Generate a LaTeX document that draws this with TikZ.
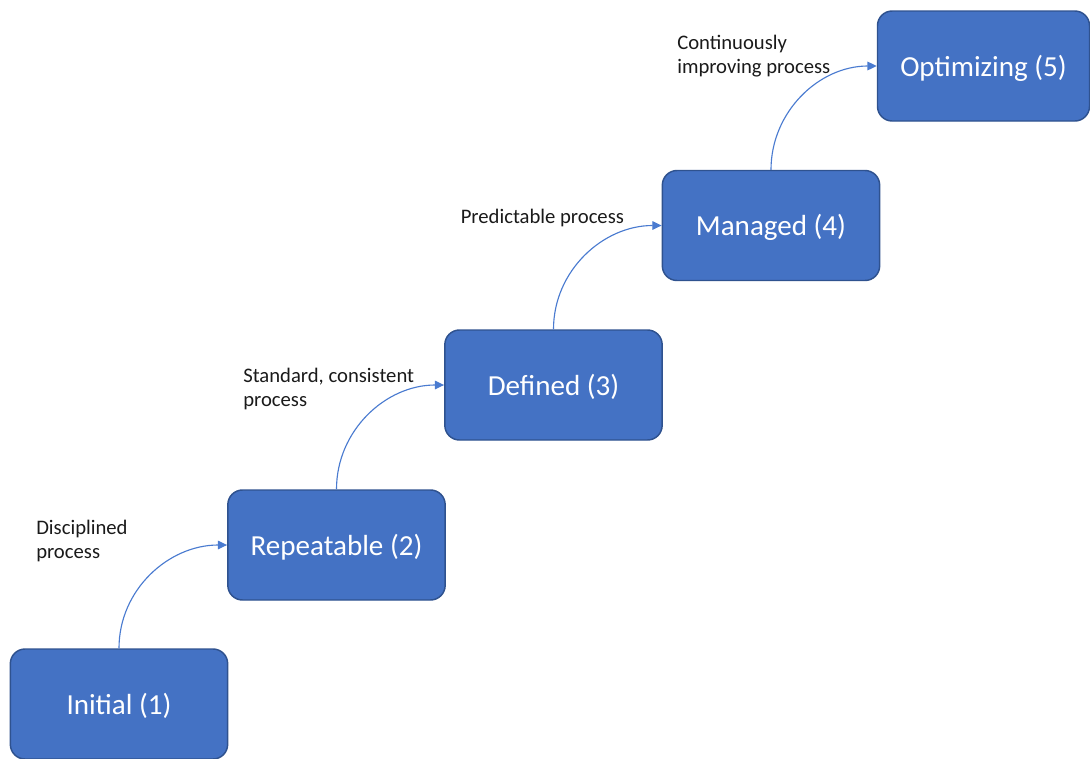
\documentclass[tikz,border=0pt]{standalone}
\usepackage{fontspec}
\setmainfont{Carlito}
\usetikzlibrary{arrows.meta}
\definecolor{boxfill}{HTML}{4472C4}
\definecolor{boxline}{HTML}{2F528F}
\definecolor{flow}{HTML}{4A7BD0}
\definecolor{note}{HTML}{1A1A1A}
\begin{document}
\begin{tikzpicture}[x=0.75pt,y=-0.75pt,
  stage/.style={draw=boxline, fill=boxfill, line width=1.1pt, rounded corners=11pt,
    minimum width=163pt, minimum height=82.5pt, inner sep=0pt,
    text height=20.6pt, text depth=5.4pt,
    text=white, font=\fontsize{21.8pt}{26pt}\selectfont},
  note/.style={anchor=base west, inner sep=0pt, text=note,
    font=\fontsize{15.5pt}{18.6pt}\selectfont},
  flowarrow/.style={draw=flow, line width=0.85pt, -{Triangle[length=7pt,width=6.5pt]}}]
  % page frame
  \useasboundingbox (0,0) rectangle (1090,758);

  % maturity levels
  \node[stage] (l1) at (119,704) {Initial (1)};
  \node[stage] (l2) at (336.5,545) {Repeatable (2)};
  \node[stage] (l3) at (553.5,385) {Defined (3)};
  \node[stage] (l4) at (771,225.5) {Managed (4)};
  \node[stage, minimum width=159pt] (l5) at (983.5,66) {Optimizing (5)};

  % transitions between levels
  \draw[flowarrow] (l1.north) to[out=90,in=180] (l2.west);
  \draw[flowarrow] (l2.north) to[out=90,in=180] (l3.west);
  \draw[flowarrow] (l3.north) to[out=90,in=180] (l4.west);
  \draw[flowarrow] (l4.north) to[out=90,in=180] (l5.west);

  % transition labels
  \node[note] (t1) at (36,534) {\begin{tabular}[t]{@{}l@{}}Disciplined\\process\end{tabular}};
  \node[note] (t2) at (243,382) {\begin{tabular}[t]{@{}l@{}}Standard, consistent\\process\end{tabular}};
  \node[note] (t3) at (460.5,223) {Predictable process};
  \node[note] (t4) at (677,49) {\begin{tabular}[t]{@{}l@{}}Continuously\\improving process\end{tabular}};
\end{tikzpicture}
\end{document}
